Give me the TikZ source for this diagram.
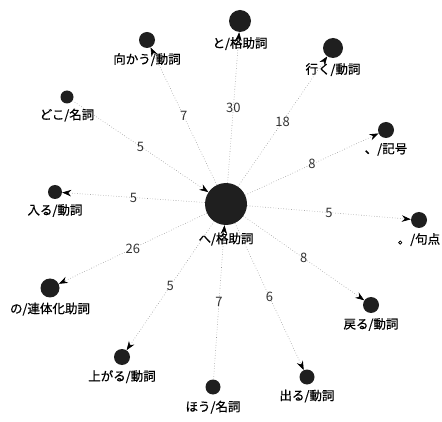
\documentclass[tikz,border=0pt]{standalone}
\usepackage{fontspec}
\setmainfont{Liberation Sans}
\newfontfamily\jpfont[FakeBold=0.6]{Noto Sans CJK JP}
\newfontfamily\numfont{Noto Sans CJK JP}
\usetikzlibrary{arrows.meta}
\begin{document}
\begin{tikzpicture}[x=1pt,y=-1pt,
  vtx/.style={circle,fill=black!88,draw=none,inner sep=0pt,minimum size=#1},
  vlab/.style={label distance=1.5pt,font=\jpfont\fontsize{12.5}{13}\selectfont,text=black},
  edge/.style={draw=black!40,dotted,line width=0.6pt,
    -{Stealth[length=9pt,width=6.5pt,color=black,fill=black]}},
  elab/.style={pos=0.5,font=\numfont\fontsize{13}{14}\selectfont,text=black!80,inner sep=1pt}]
\useasboundingbox (0,0) rectangle (442,422);
% nodes
\node[vtx=42pt,label={[vlab,label distance=4pt]below:へ/格助詞}] (he) at (226,204) {};
\node[vtx=22pt,label={[vlab]below:と/格助詞}] (to) at (240,21) {};
\node[vtx=16pt,label={[vlab]below:向かう/動詞}] (muka) at (147,40) {};
\node[vtx=20pt,label={[vlab]below:行く/動詞}] (iku) at (333,48) {};
\node[vtx=16pt,label={[vlab]below:、/記号}] (kigo) at (386,130) {};
\node[vtx=16pt,label={[vlab]below:。/句点}] (kuten) at (419,220) {};
\node[vtx=16pt,label={[vlab]below:戻る/動詞}] (modoru) at (371,305) {};
\node[vtx=15pt,label={[vlab]below:出る/動詞}] (deru) at (307,377) {};
\node[vtx=15pt,label={[vlab,label distance=2.5pt]below:ほう/名詞}] (hou) at (213,387) {};
\node[vtx=16pt,label={[vlab]below:上がる/動詞}] (agaru) at (122,357) {};
\node[vtx=19pt,label={[vlab]below:の/連体化助詞}] (no) at (50,288) {};
\node[vtx=14pt,label={[vlab]below:入る/動詞}] (hairu) at (55,192) {};
\node[vtx=13pt,label={[vlab]below:どこ/名詞}] (doko) at (67,97) {};
% edges
\draw[edge] (he) -- node[elab]{30} (to);
\draw[edge] (he) -- node[elab]{7} (muka);
\draw[edge] (he) -- node[elab]{18} (iku);
\draw[edge] (he) -- node[elab]{8} (kigo);
\draw[edge] (he) -- node[elab]{5} (kuten);
\draw[edge] (he) -- node[elab]{8} (modoru);
\draw[edge] (he) -- node[elab]{6} (deru);
\draw[edge] (hou) -- node[elab]{7} (he);
\draw[edge] (he) -- node[elab]{5} (agaru);
\draw[edge] (he) -- node[elab]{26} (no);
\draw[edge] (he) -- node[elab]{5} (hairu);
\draw[edge] (doko) -- node[elab]{5} (he);
\end{tikzpicture}
\end{document}
